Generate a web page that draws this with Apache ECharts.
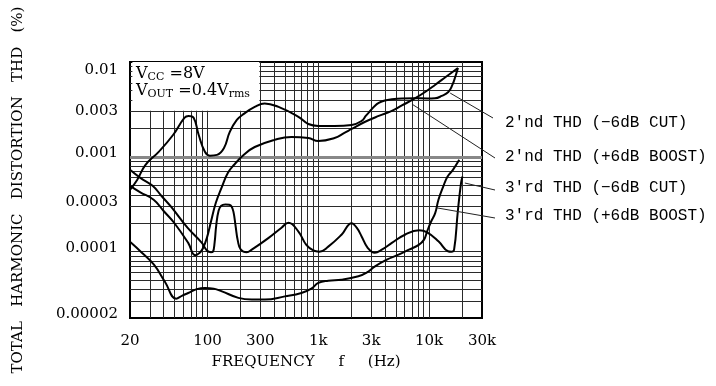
<!DOCTYPE html>
<html>
<head>
<meta charset="utf-8">
<script src="https://cdn.jsdelivr.net/npm/echarts@6/dist/echarts.min.js"></script>
<style>
  html, body { margin: 0; padding: 0; background: #fff; }
  #chart { width: 716px; height: 386px; }
</style>
</head>
<body>
<div id="chart"></div>
<script>
// values: frequency in Hz, THD in %
const freq2ndCut = [20, 23.2, 27.5, 36.3, 48.9, 61.9, 67.4, 75, 83.4, 94.8, 105, 122, 141, 159, 184, 213, 267, 328, 438, 662, 813, 1000, 1400, 2000, 2460, 2680, 2910, 3230, 3510, 3980, 4610, 5680, 7300, 9600, 11300, 13000, 14900, 16200, 17200, 18200]
const thd2ndCut = [0.00045, 0.00057, 0.00082, 0.00113, 0.0017, 0.00258, 0.0027, 0.00258, 0.0017, 0.00113, 0.00103, 0.00105, 0.00124, 0.00183, 0.00245, 0.00284, 0.00336, 0.00366, 0.00336, 0.00264, 0.00222, 0.00212, 0.00212, 0.00217, 0.00239, 0.0027, 0.00301, 0.00344, 0.0037, 0.00393, 0.00405, 0.00413, 0.00415, 0.00413, 0.00415, 0.00439, 0.00483, 0.00573, 0.00695, 0.00865]

const freq2ndBoost = [20, 24.8, 32.7, 40.4, 50, 67, 77.4, 85.2, 90.8, 98.8, 107.5, 119, 135, 153, 173, 213, 267, 403, 572, 813, 1000, 1400, 1720, 2000, 2620, 3510, 4610, 5680, 7300, 9200, 11300, 14300, 18200]
const thd2ndBoost = [0.000495, 0.000423, 0.000353, 0.000267, 0.000202, 0.000124, 0.000092, 0.0000976, 0.000108, 0.00014, 0.000207, 0.000328, 0.000483, 0.000679, 0.00082, 0.00105, 0.00127, 0.00151, 0.00162, 0.00158, 0.00147, 0.00158, 0.00179, 0.00197, 0.00233, 0.0027, 0.00305, 0.00348, 0.00408, 0.00483, 0.00573, 0.00703, 0.00865]

const freq3rdCut = [20, 24.8, 32, 38.7, 46.9, 66, 89, 98.8, 107.5, 112, 116, 120, 126, 133, 145, 157, 165, 172, 179, 188, 200, 226, 251, 354, 466, 538, 662, 780, 902, 1020, 1230, 1620, 2000, 2220, 2460, 2790, 3230, 3740, 4610, 6050, 8100, 9600, 12200, 14800, 15900, 16800, 18100, 19400, 20000]
const thd3rdCut = [0.00073, 0.0006, 0.000495, 0.000384, 0.000298, 0.000179, 0.000124, 0.000103, 0.0000988, 0.0001, 0.000125, 0.00019, 0.00027, 0.000305, 0.000315, 0.000312, 0.0003, 0.00026, 0.00019, 0.00013, 0.000105, 0.0000985, 0.000105, 0.000139, 0.000179, 0.000202, 0.000163, 0.000118, 0.000103, 0.0001, 0.000113, 0.000151, 0.0002, 0.000179, 0.000145, 0.00011, 0.0000976, 0.000105, 0.000124, 0.000151, 0.000168, 0.00016, 0.000128, 0.000101, 0.0000998, 0.000105, 0.000257, 0.000528, 0.00062]

const freq3rdBoost = [20, 25.6, 32.9, 41.3, 52.2, 59.3, 67, 80, 95, 114, 135, 190, 251, 330, 499, 704, 866, 1000, 1230, 1620, 2300, 2730, 3250, 4150, 5300, 6580, 8060, 9000, 9600, 10400, 11340, 12140, 13400, 14630, 16400, 18700]
const thd3rdBoost = [0.000127, 0.0000976, 0.000073, 0.0000483, 0.000032, 0.0000344, 0.0000367, 0.0000403, 0.0000415, 0.0000408, 0.0000382, 0.0000326, 0.0000313, 0.0000313, 0.0000338, 0.0000367, 0.0000408, 0.0000469, 0.0000495, 0.0000507, 0.000055, 0.0000601, 0.00007, 0.0000824, 0.000093, 0.000105, 0.000118, 0.000134, 0.000164, 0.000207, 0.000255, 0.000353, 0.000486, 0.000616, 0.00073, 0.00093]

// tick labels
const xTickValues = [20, 100, 300, 1000, 3000, 10000, 30000]
const xTickLabels = ['20', '100', '300', '1k', '3k', '10k', '30k']
const yTickValues = [0.00002, 0.0001, 0.0003, 0.001, 0.003, 0.01]
const yTickLabels = ['0.00002', '0.0001', '0.0003', '0.001', '0.003', '0.01']

// callout texts and the point (Hz, %) each arrow points at
const noteTexts = ["2'nd THD (\u22126dB CUT)", "2'nd THD (+6dB BOOST)", "3'rd THD (\u22126dB CUT)", "3'rd THD (+6dB BOOST)"]
const noteFreqs = [15500, 7000, 21000, 11700]
const noteThds = [0.0047, 0.0036, 0.00053, 0.00029]

const lg = Math.log10
const serif = 'DejaVu Serif'
const mono = 'Liberation Mono'

function toPoints (freqs, thds) {
  return freqs.map((f, i) => [lg(f), lg(thds[i])])
}
function labelFor (values, labels, v) {
  for (let i = 0; i < values.length; i++) {
    if (Math.abs(lg(values[i]) - v) < 1e-6) return labels[i]
  }
  return ''
}

// 1-2-3...9 log grid
const xGrid = []
;[10, 100, 1000, 10000].forEach(d => {
  for (let k = 1; k <= 9; k++) {
    const v = k * d
    if (v > 20.1 && v < 29999) xGrid.push(v)
  }
})
const yGrid = []
;[0.00001, 0.0001, 0.001].forEach(d => {
  for (let k = 1; k <= 9; k++) {
    const v = k * d
    if (v > 0.0000201 && v < 0.00999) yGrid.push(v)
  }
})

const gridLines = []
xGrid.forEach(v => gridLines.push({ xAxis: lg(v) }))
yGrid.forEach(v => {
  const item = { yAxis: lg(v) }
  if (Math.abs(v - 0.001) < 1e-9) item.lineStyle = { color: '#888', width: 3 }
  gridLines.push(item)
})

const calloutStart = [[493, 118], [495, 158], [495, 190], [495, 218]]
const calloutTextY = [123, 157, 188, 216]

const curveStyle = {
  type: 'line',
  z: 3,
  smooth: 0.45,
  showSymbol: false,
  silent: true,
  lineStyle: { color: '#000', width: 2 }
}

const chart = echarts.init(document.getElementById('chart'))

const labelStyle = { fontFamily: serif, fontSize: 15, color: '#000' }
const boxRich = {
  n: { fontFamily: serif, fontSize: 16, fill: '#000' },
  s: { fontFamily: serif, fontSize: 11, fill: '#000', padding: [8, 0, 0, 0] }
}

const option = {
  animation: false,
  textStyle: { fontFamily: serif },
  grid: {
    left: 130,
    top: 62,
    width: 352,
    height: 256,
    show: true,
    borderColor: '#000',
    borderWidth: 2,
    backgroundColor: 'transparent'
  },
  xAxis: {
    type: 'value',
    min: lg(20),
    max: lg(30000),
    name: 'FREQUENCY     f     (Hz)',
    nameLocation: 'middle',
    nameGap: 37,
    nameTextStyle: { fontFamily: serif, fontSize: 15, color: '#000' },
    axisLine: { show: true, lineStyle: { color: '#000', width: 2 } },
    axisTick: { show: false },
    splitLine: { show: false },
    axisLabel: {
      customValues: xTickValues.map(lg),
      margin: 16,
      fontFamily: serif,
      fontSize: 15,
      color: '#000',
      formatter: v => labelFor(xTickValues, xTickLabels, v)
    }
  },
  yAxis: {
    type: 'value',
    min: lg(0.00002),
    max: lg(0.01),
    name: 'TOTAL   HARMONIC   DISTORTION   THD   (%)',
    nameLocation: 'middle',
    nameRotate: 90,
    nameGap: 104,
    nameTextStyle: { fontFamily: serif, fontSize: 15, color: '#000' },
    axisLine: { show: true, lineStyle: { color: '#000', width: 2 } },
    axisTick: { show: false },
    splitLine: { show: false },
    axisLabel: {
      customValues: yTickValues.map(lg),
      margin: 12,
      fontFamily: serif,
      fontSize: 15,
      color: '#000',
      formatter: v => {
        const t = labelFor(yTickValues, yTickLabels, v)
        if (t === '0.01') return '{dn|' + t + '}'
        if (t === '0.003') return '{c|' + t + '}'
        return '{up|' + t + '}'
      },
      rich: {
        c: labelStyle,
        up: Object.assign({ padding: [0, 0, 8, 0] }, labelStyle),
        dn: Object.assign({ padding: [16, 0, 0, 0] }, labelStyle)
      }
    }
  },
  series: [
    {
      // log grid
      type: 'line',
      data: [],
      z: 1,
      silent: true,
      markLine: {
        z: 1,
        silent: true,
        animation: false,
        symbol: 'none',
        label: { show: false },
        lineStyle: { color: '#2a2a2a', width: 1, type: 'solid' },
        emphasis: { disabled: true },
        data: gridLines
      }
    },
    {
      // white box behind the conditions text
      type: 'line',
      data: [],
      z: 2,
      silent: true,
      markArea: {
        z: 2,
        silent: true,
        itemStyle: { color: '#fff', opacity: 1 },
        label: { show: false },
        data: [[
          { coord: [lg(21), lg(0.00307)] },
          { coord: [lg(294), lg(0.01)] }
        ]]
      }
    },
    Object.assign({ name: noteTexts[0], data: toPoints(freq2ndCut, thd2ndCut) }, curveStyle),
    Object.assign({ name: noteTexts[1], data: toPoints(freq2ndBoost, thd2ndBoost) }, curveStyle),
    Object.assign({ name: noteTexts[2], data: toPoints(freq3rdCut, thd3rdCut) }, curveStyle),
    Object.assign({ name: noteTexts[3], data: toPoints(freq3rdBoost, thd3rdBoost) }, curveStyle),
    {
      // callout arrows
      type: 'line',
      data: [],
      z: 4,
      silent: true,
      markLine: {
        z: 4,
        silent: true,
        animation: false,
        symbol: ['none', 'arrow'],
        symbolSize: [0, 8],
        label: { show: false },
        lineStyle: { color: '#222', width: 1, type: 'solid' },
        emphasis: { disabled: true },
        data: noteTexts.map((t, i) => [
          { x: calloutStart[i][0], y: calloutStart[i][1] },
          { coord: [lg(noteFreqs[i]), lg(noteThds[i])] }
        ])
      }
    }
  ],
  graphic: [
    {
      type: 'text',
      x: 136,
      y: 64,
      z: 10,
      style: { text: '{n|V}{s|CC}{n| =8V}', rich: boxRich }
    },
    {
      type: 'text',
      x: 136,
      y: 81,
      z: 10,
      style: { text: '{n|V}{s|OUT}{n| =0.4V}{s|rms}', rich: boxRich }
    }
  ].concat(noteTexts.map((t, i) => ({
    type: 'text',
    x: 505,
    y: calloutTextY[i],
    z: 10,
    style: {
      text: t,
      fontFamily: mono,
      fontSize: 16,
      fill: '#000',
      verticalAlign: 'middle'
    }
  })))
}

chart.setOption(option)
</script>
</body>
</html>
